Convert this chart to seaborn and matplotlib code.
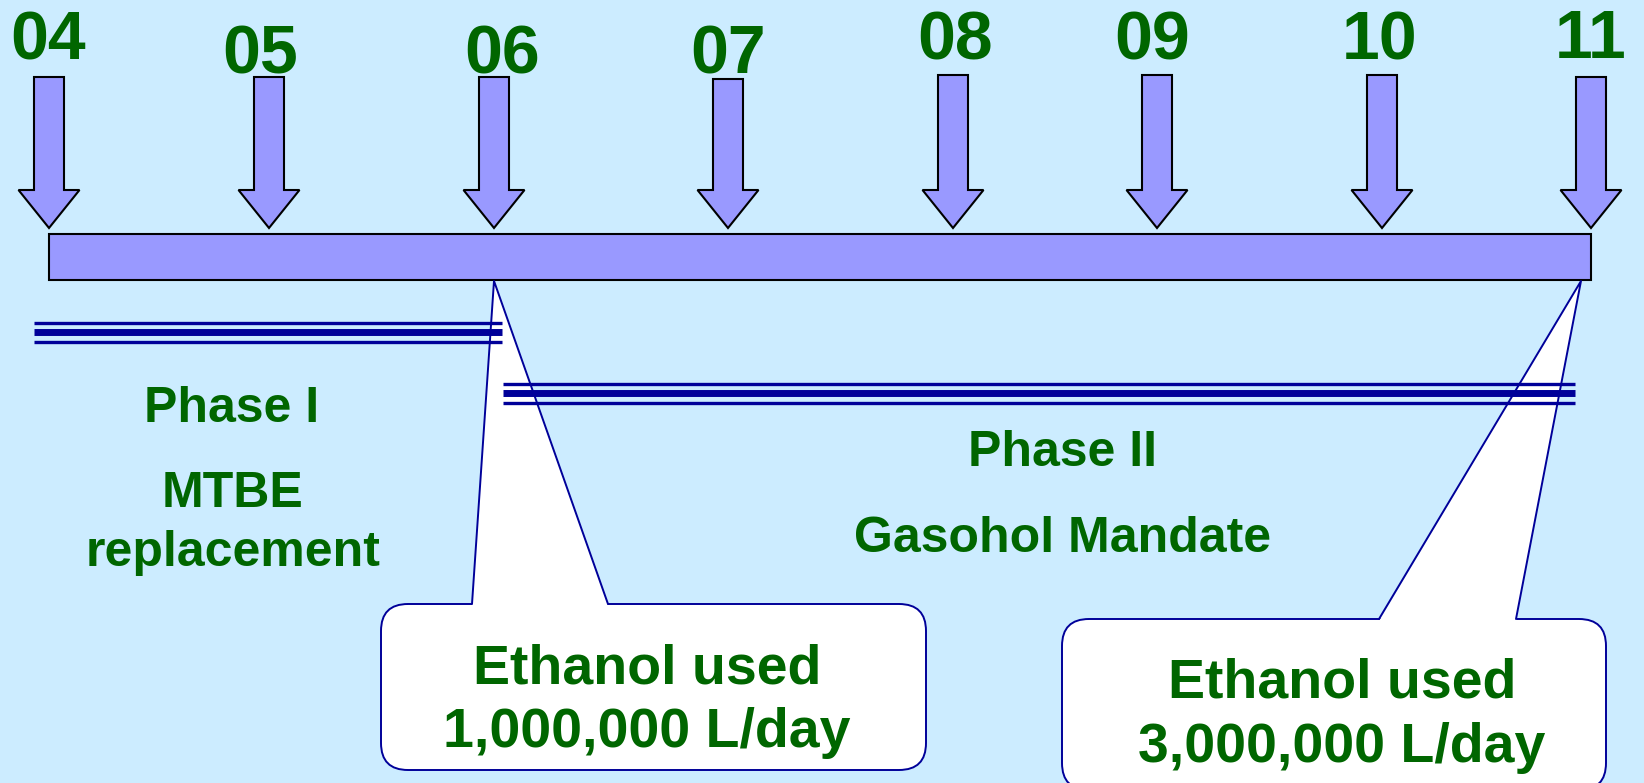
import numpy as np
import pandas as pd
import matplotlib
matplotlib.use("Agg")
import matplotlib.pyplot as plt
from matplotlib.patches import Rectangle, Polygon, FancyBboxPatch
import seaborn as sns

#%% Data (pixel units of a 1644x783 canvas)

years = ['04', '05', '06', '07', '08', '09', '10', '11']
year_x = [49, 269, 494, 728, 953, 1157, 1382, 1591]      # arrow tips on the timeline
label_x = [48, 260, 502, 728, 955, 1152, 1380, 1591]
label_base = [59, 73, 73, 73, 59, 59, 59, 58]
arrow_top = [77, 77, 77, 79, 75, 75, 75, 77]

phase_names = ['Phase I', 'Phase II']
phase_start = [34, 503]
phase_end = [502, 1575]
phase_y = [332, 393]

callout_text = ['Ethanol used\n1,000,000 L/day', 'Ethanol used\n3,000,000 L/day']
callout_year = ['06', '11']

#%% Style

sns.set_theme(style='white')
plt.rcParams['font.family'] = ['Liberation Sans', 'DejaVu Sans']
plt.rcParams['font.weight'] = 'bold'

bg = '#CCECFF'
green = '#006600'
navy = '#000099'
lilac = '#9999FF'

W, H = 1644, 783
fig = plt.figure(figsize=(W / 100, H / 100), dpi=100)
fig.patch.set_facecolor(bg)
ax = fig.add_axes([0, 0, 1, 1])
ax.set_facecolor(bg)
ax.set_xlim(0, W)
ax.set_ylim(H, 0)
ax.axis('off')

#%% Timeline bar

bar_top, bar_bot = 234, 280
ax.add_patch(Rectangle((year_x[0], bar_top), year_x[-1] - year_x[0], bar_bot - bar_top,
                       fc=lilac, ec='black', lw=1.5, zorder=2))

#%% Year arrows and labels

shaft_w, head_w = 15, 30.5
head_top, tip_y = 190, 228
for yr, x, lx, lb, top in zip(years, year_x, label_x, label_base, arrow_top):
    pts = [(x - shaft_w, top), (x + shaft_w, top), (x + shaft_w, head_top),
           (x + head_w, head_top), (x, tip_y), (x - head_w, head_top),
           (x - shaft_w, head_top)]
    ax.add_patch(Polygon(pts, closed=True, fc=lilac, ec='black', lw=1.5, zorder=2))
    ax.text(lx, lb, yr, color=green, fontsize=49, fontweight='bold',
            ha='center', va='baseline', zorder=7)

#%% Callouts (rounded box + wedge pointing at the bar)

boxes = [(381, 604, 926, 770), (1062, 619, 1606, 790)]
bases = [(472, 608), (1379, 1516)]
text_x = [647, 1342]
text_base = [(683, 747), (697, 762)]

for txt, yr, (x0, y0, x1, y1), (bl, br), tx, (b1, b2) in zip(
        callout_text, callout_year, boxes, bases, text_x, text_base):
    tip = (year_x[years.index(yr)] - (0 if yr == '06' else 10), bar_bot + 1)
    ax.add_patch(FancyBboxPatch((x0, y0), x1 - x0, y1 - y0,
                                boxstyle='round,pad=0,rounding_size=27',
                                fc='white', ec=navy, lw=1.4, zorder=3))
    ax.add_patch(Polygon([(bl, y0 + 2), tip, (br, y0 + 2)], closed=True,
                         fc='white', ec='none', zorder=4))
    ax.plot([bl, tip[0], br], [y0, tip[1], y0], color=navy, lw=1.4, zorder=5)
    line1, line2 = txt.split('\n')
    ax.text(tx, b1, line1, color=green, fontsize=40, fontweight='bold',
            ha='center', va='baseline', zorder=7)
    ax.text(tx, b2, line2, color=green, fontsize=40, fontweight='bold',
            ha='center', va='baseline', zorder=7)

#%% Phase lines (thin / thick / thin)

for name, xs, xe, yc in zip(phase_names, phase_start, phase_end, phase_y):
    seg = pd.DataFrame({'x': [xs, xe], 'y': [yc, yc]})
    sns.lineplot(data=seg, x='x', y='y', ax=ax, color=navy, lw=5.0,
                 solid_capstyle='butt', zorder=6)
    for off in (-9.5, 9.5):
        sns.lineplot(x=seg['x'], y=seg['y'] + off, ax=ax, color=navy, lw=2.4,
                     solid_capstyle='butt', zorder=6)

ax.set_xlim(0, W)
ax.set_ylim(H, 0)
ax.axis('off')

#%% Phase texts

ax.text(232, 422, 'Phase I', color=green, fontsize=36, fontweight='bold',
        ha='center', va='baseline', zorder=7)
ax.text(232, 507, 'MTBE', color=green, fontsize=36, fontweight='bold',
        ha='center', va='baseline', zorder=7)
ax.text(233, 566, 'replacement', color=green, fontsize=36, fontweight='bold',
        ha='center', va='baseline', zorder=7)
ax.text(1062, 466, 'Phase II', color=green, fontsize=36, fontweight='bold',
        ha='center', va='baseline', zorder=7)
ax.text(1063, 552, 'Gasohol Mandate', color=green, fontsize=36, fontweight='bold',
        ha='center', va='baseline', zorder=7)

fig.savefig('out.png', dpi=100, facecolor=bg)
